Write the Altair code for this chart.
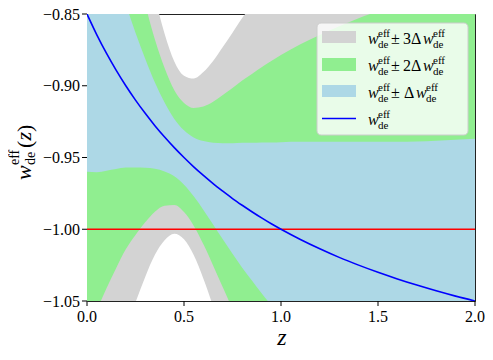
import altair as alt
import pandas as pd

# ---- data ----
z = [0.0, 0.05, 0.1, 0.15, 0.2, 0.25, 0.3, 0.35, 0.4, 0.45, 0.5, 0.55, 0.6, 0.65,
     0.7, 0.75, 0.8, 0.85, 0.9, 0.95, 1.0, 1.1, 1.2, 1.3, 1.4, 1.5, 1.6, 1.7,
     1.8, 1.9, 2.0]
w_eff = [-0.850, -0.8643, -0.8773, -0.8891, -0.9000, -0.9100, -0.9192, -0.9278,
         -0.9357, -0.9431, -0.9500, -0.9565, -0.9625, -0.9682, -0.9735, -0.9786,
         -0.9833, -0.9878, -0.9921, -0.9962, -1.0000, -1.0071, -1.0136, -1.0196,
         -1.0250, -1.0300, -1.0346, -1.0389, -1.0429, -1.0466, -1.0500]
dw_eff = [0.110, 0.096, 0.082, 0.069, 0.057, 0.047, 0.038, 0.030, 0.024, 0.020,
          0.0190, 0.0205, 0.0240, 0.0285, 0.0335, 0.0385, 0.0435, 0.0480, 0.0525,
          0.0567, 0.0607, 0.0680, 0.0745, 0.0805, 0.0860, 0.0910, 0.0955, 0.1000,
          0.1045, 0.1090, 0.1130]
w_lcdm = [-1.0]
x_ticks = [0.0, 0.5, 1.0, 1.5, 2.0]
x_tick_labels = ["0.0", "0.5", "1.0", "1.5", "2.0"]
y_ticks = [-1.05, -1.0, -0.95, -0.9, -0.85]
y_tick_labels = ["\u22121.05", "\u22121.00", "\u22120.95", "\u22120.90", "\u22120.85"]

df = pd.DataFrame({"z": z, "w": w_eff, "dw": dw_eff})
for k in (1, 2, 3):
    df[f"lo{k}"] = df["w"] - k * df["dw"]
    df[f"hi{k}"] = df["w"] + k * df["dw"]
ref = pd.DataFrame({"w": w_lcdm})
xt = pd.DataFrame({"v": x_ticks, "t": x_tick_labels})
yt = pd.DataFrame({"v": y_ticks, "t": y_tick_labels})
one = pd.DataFrame({"k": [0]})

SERIF = "Liberation Serif"
W, H = 388, 287

xs = alt.Scale(domain=[0, 2], nice=False, zero=False)
ys = alt.Scale(domain=[-1.05, -0.85], nice=False, zero=False)

base = alt.Chart(df)


def band(k, color):
    return base.mark_area(color=color, opacity=1, clip=True, interpolate="monotone").encode(
        x=alt.X("z:Q", scale=xs, axis=None),
        y=alt.Y(f"lo{k}:Q", scale=ys, axis=None),
        y2=f"hi{k}:Q",
    )


bands = [band(3, "#d3d3d3"), band(2, "#90ee90"), band(1, "#add8e6")]

red = alt.Chart(ref).mark_rule(color="#ff0000", strokeWidth=1.5, clip=True).encode(
    y=alt.Y("w:Q", scale=ys, axis=None))

line = base.mark_line(color="#0000ff", strokeWidth=1.6, clip=True, interpolate="monotone").encode(
    x=alt.X("z:Q", scale=xs, axis=None),
    y=alt.Y("w:Q", scale=ys, axis=None),
)

# axes drawn by hand (ticks + labels through the same scales)
xtick_marks = alt.Chart(xt).mark_rule(color="black", strokeWidth=1).encode(
    x=alt.X("v:Q", scale=xs, axis=None), y=alt.value(H), y2=alt.value(H + 5))
ytick_marks = alt.Chart(yt).mark_rule(color="black", strokeWidth=1).encode(
    y=alt.Y("v:Q", scale=ys, axis=None), x=alt.value(-5), x2=alt.value(0))
xtick_text = alt.Chart(xt).mark_text(align="center", baseline="alphabetic", font=SERIF,
                                     fontSize=16, color="black").encode(
    x=alt.X("v:Q", scale=xs, axis=None), y=alt.value(H + 21), text="t:N")
ytick_text = alt.Chart(yt).mark_text(align="right", baseline="alphabetic", dy=5.5, font=SERIF,
                                     fontSize=16, color="black").encode(
    y=alt.Y("v:Q", scale=ys, axis=None), x=alt.value(-7), text="t:N")

OX, OY = 87, 14  # page position of plot origin


def txt(s, px, py, size, italic=False, angle=0, align="left"):
    kw = dict(align=align, baseline="alphabetic", font=SERIF, fontSize=size,
              color="black", text=s)
    if italic:
        kw["fontStyle"] = "italic"
    if angle:
        kw["angle"] = angle
    return alt.Chart(one).mark_text(**kw).encode(
        x=alt.value(px - OX), y=alt.value(py - OY))


def rect(x1, y1, x2, y2, **kw):
    return alt.Chart(one).mark_rect(**kw).encode(
        x=alt.value(x1 - OX), x2=alt.value(x2 - OX),
        y=alt.value(y1 - OY), y2=alt.value(y2 - OY))


# x-axis title
xtitle = [txt("z", 282, 345, 24, italic=True, align="center")]

# y-axis title  w_de^eff(z), rotated
ytitle = [
    txt("w", 31, 180, 22, italic=True, angle=270),
    txt("eff", 19, 165, 14, angle=270),
    txt("de", 35, 165, 14, angle=270),
    txt("(", 32, 148, 22, angle=270),
    txt("z", 31, 140.5, 22, italic=True, angle=270),
    txt(")", 32, 132, 22, angle=270),
]

# legend
legend = [
    rect(317, 23, 468, 135, fill="white", fillOpacity=0.8, stroke="#cccccc",
         strokeWidth=1, cornerRadius=4),
    rect(322, 31, 356, 43, fill="#d3d3d3"),
    rect(322, 58, 356, 71, fill="#90ee90"),
    rect(322, 85, 356, 97, fill="#add8e6"),
    alt.Chart(one).mark_rule(color="#0000ff", strokeWidth=1.6).encode(
        x=alt.value(322 - OX), x2=alt.value(356 - OX), y=alt.value(118.5 - OY)),
]


def weff(x0, yb):
    return [txt("w", x0, yb, 16, italic=True),
            txt("eff", x0 + 10, yb - 7.5, 11),
            txt("de", x0 + 10, yb + 3.5, 11)]


for yb, coef in ((44, "3"), (71, "2")):
    legend += weff(368, yb)
    legend += [txt("\u00b1", 391, yb, 16), txt(coef + "\u0394", 403, yb, 16)]
    legend += weff(423, yb)
legend += weff(368, 98)
legend += [txt("\u00b1", 391, 98, 16), txt("\u0394", 404, 98, 16)]
legend += weff(416, 98)
legend += weff(368, 125)

chart = alt.layer(*bands, red, line, xtick_marks, ytick_marks, xtick_text, ytick_text,
                  *xtitle, *ytitle, *legend).properties(
    width=W, height=H,
    padding={"left": 79, "top": 6, "right": 10, "bottom": 50},
    autosize=alt.AutoSizeParams(type="none"),
).configure_view(stroke="#222222", strokeWidth=1)

chart.save("out.html", embed_options={"renderer": "svg", "actions": False})
